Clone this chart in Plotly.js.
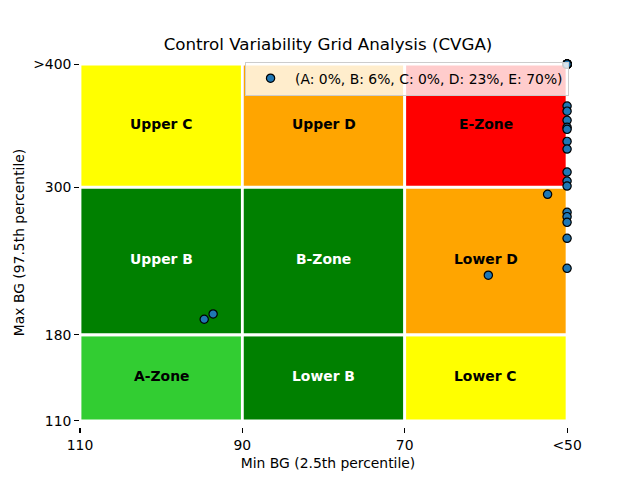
<!DOCTYPE html>
<html>
<head>
<meta charset="utf-8">
<script src="https://cdn.plot.ly/plotly-3.0.1.min.js"></script>
<style>html,body{margin:0;padding:0;background:#fff;}#chart{width:640px;height:480px;}</style>
</head>
<body>
<div id="chart"></div>
<script>
// Zone data
const zoneNames = ["A-Zone", "Lower B", "Lower C", "Upper B", "B-Zone", "Lower D", "Upper C", "Upper D", "E-Zone"];
const zoneMinBG0 = [110, 90, 70, 110, 90, 70, 110, 90, 70];
const zoneMinBG1 = [90, 70, 50, 90, 70, 50, 90, 70, 50];
const zoneMaxBG0 = [110, 110, 110, 180, 180, 180, 300, 300, 300];
const zoneMaxBG1 = [180, 180, 180, 300, 300, 300, 400, 400, 400];
const zoneColors = ["#32cd32", "#008000", "#ffff00", "#008000", "#008000", "#ffa500", "#ffff00", "#ffa500", "#ff0000"];

// Tick labels
const xTickVals = [110, 90, 70, 50];
const xTickText = ["110", "90", "70", "<50"];
const yTickVals = [110, 180, 300, 400];
const yTickText = ["110", "180", "300", ">400"];

// Patient points (min BG 2.5th pct, max BG 97.5th pct), clipped to 50 / 400
const minBG = [94.7, 93.6,
  52.4, 59.7, 50, 50, 50, 50, 50,
  50, 50, 50, 50, 50, 50, 50, 50, 50, 50, 50,
  50, 50, 50, 50, 50, 50, 50, 50, 50, 50];
const maxBG = [192.6, 196.9,
  294.2, 228.4, 279.5, 276, 271.4, 258.4, 234,
  400, 400, 400, 400, 400, 400, 400, 400, 400, 400, 400,
  365.9, 361.8, 354.3, 348.6, 347, 337.2, 331, 312.3, 305, 300.9];
const legendLabel = "(A: 0%, B: 6%, C: 0%, D: 23%, E: 70%)";

const font = "DejaVu Sans, sans-serif";
const fs = 13.9;

const shapes = zoneNames.map((n, i) => ({
  type: "rect", xref: "x", yref: "y",
  x0: zoneMinBG0[i], x1: zoneMinBG1[i], y0: zoneMaxBG0[i], y1: zoneMaxBG1[i],
  fillcolor: zoneColors[i], line: {color: "#ffffff", width: 2.8}, layer: "below"
}));

const annotations = zoneNames.map((n, i) => ({
  x: (zoneMinBG0[i] + zoneMinBG1[i]) / 2, y: (zoneMaxBG0[i] + zoneMaxBG1[i]) / 2,
  xref: "x", yref: "y", text: "<b>" + n + "</b>", showarrow: false, yshift: 1.5,
  font: {family: font, size: fs, color: zoneColors[i] === "#008000" ? "#ffffff" : "#000000"}
}));

const trace = {
  type: "scatter", mode: "markers", x: minBG, y: maxBG, name: legendLabel,
  showlegend: true, cliponaxis: false,
  marker: {size: 8.3, color: "#1f77b4", line: {color: "#000000", width: 1.2}}
};

const layout = {
  width: 640, height: 480,
  margin: {l: 80, r: 64, t: 57.6, b: 52.8, pad: 0},
  paper_bgcolor: "#ffffff", plot_bgcolor: "#ffffff",
  font: {family: font, size: fs, color: "#000000"},
  title: {text: "Control Variability Grid Analysis (CVGA)", font: {family: font, size: 16.7, color: "#000"},
    x: 0.5125, xanchor: "center", xref: "container", y: 1 - 44 / 480, yanchor: "middle", yref: "container"},
  xaxis: {range: [110, 48.9], tickvals: xTickVals, ticktext: xTickText, showgrid: false, zeroline: false,
    showline: false, ticks: "outside", ticklen: 4.9, tickwidth: 1.1, tickcolor: "#000",
    tickfont: {family: font, size: fs, color: "#000"},
    title: {text: "Min BG (2.5th percentile)", font: {family: font, size: fs, color: "#000"}, standoff: 6},
    automargin: false, fixedrange: true},
  yaxis: {range: [105, 405], tickvals: yTickVals, ticktext: yTickText, showgrid: false, zeroline: false,
    showline: false, ticks: "outside", ticklen: 4.9, tickwidth: 1.1, tickcolor: "#000",
    tickfont: {family: font, size: fs, color: "#000"},
    title: {text: "Max BG (97.5th percentile)", font: {family: font, size: fs, color: "#000"}, standoff: 5},
    automargin: false, fixedrange: true},
  shapes: shapes,
  annotations: annotations,
  showlegend: true,
  legend: {x: 0.986, xanchor: "right", y: 0.99, yanchor: "top", bgcolor: "rgba(255,255,255,0.8)",
    bordercolor: "#cccccc", borderwidth: 1, font: {family: font, size: fs, color: "#000"},
    itemwidth: 39}
};

Plotly.newPlot("chart", [trace], layout, {displayModeBar: false, staticPlot: true});
</script>
</body>
</html>
